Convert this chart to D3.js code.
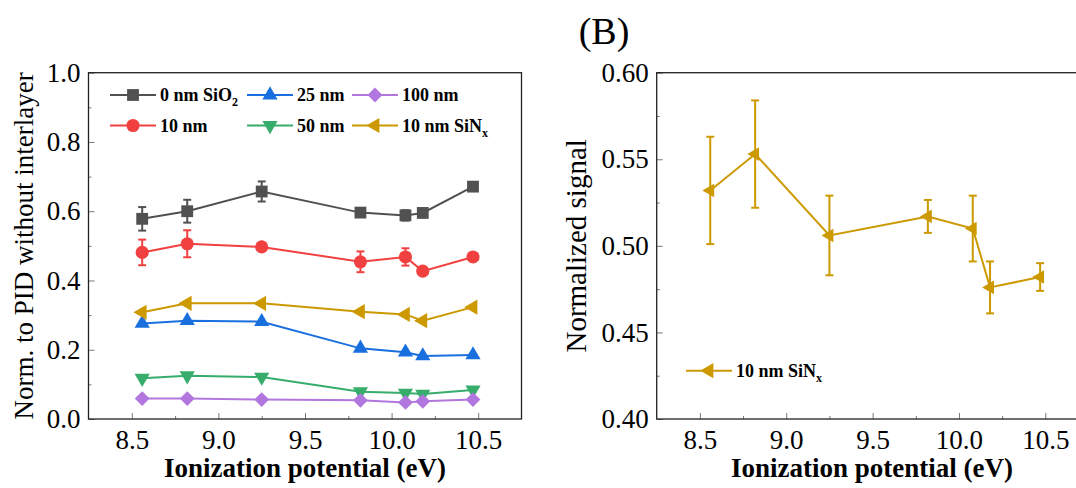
<!DOCTYPE html>
<html>
<head>
<meta charset="utf-8">
<script src="https://cdn.jsdelivr.net/npm/d3@7"></script>
<style>
  html, body { margin: 0; padding: 0; background: #fff; }
  svg { display: block; }
  svg text { font-family: "Liberation Serif", "Times New Roman", serif !important; fill: #000; }
  .tick text { font-size: 27px; }
  .axis-title { font-size: 27px; }
  .legend-text { font-size: 18px; font-weight: bold; }
</style>
</head>
<body>
<div id="chart"></div>
<script>
'use strict';

// ============================================================
//  Two panels: (left) signal normalised to PID without
//  interlayer for several interlayers, (B) normalised signal
//  for the 10 nm SiNx interlayer, both vs ionization potential
// ============================================================

// ── Data ────────────────────────────────────────────────────
const ionPotential = [8.56, 8.82, 9.25, 9.82, 10.08, 10.18, 10.47];

const sio2_0   = [0.578, 0.600, 0.657, 0.596, 0.588, 0.595, 0.671];
const sio2_0e  = [0.034, 0.033, 0.029, 0.008, 0.015, 0.008, 0.008];
const sio2_10  = [0.481, 0.506, 0.497, 0.454, 0.468, 0.427, 0.468];
const sio2_10e = [0.037, 0.039, 0.008, 0.030, 0.025, 0.008, 0.008];
const sio2_25  = [0.276, 0.284, 0.281, 0.204, 0.193, 0.182, 0.185];
const sio2_50  = [0.118, 0.125, 0.121, 0.079, 0.075, 0.072, 0.084];
const sio2_100 = [0.059, 0.059, 0.056, 0.054, 0.048, 0.051, 0.056];
const sinx_10  = [0.308, 0.334, 0.334, 0.310, 0.302, 0.284, 0.323];

// panel B
const sinxNorm    = [0.532, 0.553, 0.506, 0.517, 0.510, 0.476, 0.482];
const sinxNormErr = [0.031, 0.031, 0.023, 0.0095, 0.019, 0.015, 0.008];

const xTicks      = [8.5, 9.0, 9.5, 10.0, 10.5];
const xMinorTicks = [8.75, 9.25, 9.75, 10.25];
const yTicksA      = [0, 0.2, 0.4, 0.6, 0.8, 1.0];
const yMinorTicksA = [0.1, 0.3, 0.5, 0.7, 0.9];
const yTicksB      = [0.40, 0.45, 0.50, 0.55, 0.60];
const yMinorTicksB = [0.425, 0.475, 0.525, 0.575];

// Origin-style palette
const COLOURS = ['#515151', '#F14040', '#1A6FDF', '#37AD6B', '#B177DE', '#CC9900'];

// ── Marker shapes ───────────────────────────────────────────
const markerDefs = [
    { type: d3.symbolSquare,   size: 140, rot: 0 },
    { type: d3.symbolCircle,   size: 135, rot: 0 },
    { type: d3.symbolTriangle, size: 100, rot: 0 },
    { type: d3.symbolTriangle, size: 100, rot: 180 },
    { type: d3.symbolSquare,   size: 110, rot: 45 },
    { type: d3.symbolTriangle, size: 100, rot: -90 }
];

const W = 1076, H = 488;
const svg = d3.select('#chart').append('svg')
    .attr('width', W).attr('height', H);

// ── Helpers ─────────────────────────────────────────────────
function drawAxes(g, x, y, box, yTicks, yMinor, yFmt) {
    // major + minor ticks, all pointing inward
    const xa = g.append('g').attr('transform', `translate(0,${box.bottom})`)
        .call(d3.axisBottom(x).tickValues(xTicks).tickSize(-6).tickPadding(11)
            .tickFormat(d3.format('.1f')));
    const xm = g.append('g').attr('transform', `translate(0,${box.bottom})`)
        .call(d3.axisBottom(x).tickValues(xMinorTicks).tickSize(-3).tickFormat(''));
    const ya = g.append('g').attr('transform', `translate(${box.left},0)`)
        .call(d3.axisLeft(y).tickValues(yTicks).tickSize(-6).tickPadding(8).tickFormat(yFmt));
    const ym = g.append('g').attr('transform', `translate(${box.left},0)`)
        .call(d3.axisLeft(y).tickValues(yMinor).tickSize(-3).tickFormat(''));
    [xa, xm, ya, ym].forEach(a => {
        // drop d3's default sans-serif so the serif from the css applies
        a.attr('font-family', null).attr('font-size', null);
        a.select('.domain').remove();
        a.selectAll('.tick line').attr('stroke', '#777').attr('stroke-width', 1);
    });

    // frame
    g.append('rect')
        .attr('x', box.left).attr('y', box.top)
        .attr('width', box.right - box.left).attr('height', box.bottom - box.top)
        .attr('fill', 'none').attr('stroke', '#222').attr('stroke-width', 1.3);
}

function marker(sel, i, cx, cy, scale) {
    const m = markerDefs[i];
    sel.append('path')
        .attr('d', d3.symbol().type(m.type).size(m.size * (scale || 1))())
        .attr('transform', `translate(${cx},${cy}) rotate(${m.rot})`)
        .attr('fill', COLOURS[i]);
}

function drawSeries(g, x, y, vals, errs, i, scale) {
    const pts = ionPotential.map((v, k) => ({ x: v, y: vals[k], e: errs ? errs[k] : 0 }));
    const col = COLOURS[i];

    // error bars with caps
    pts.filter(d => d.e > 0).forEach(d => {
        const cx = x(d.x), y1 = y(d.y + d.e), y2 = y(d.y - d.e);
        g.append('line').attr('x1', cx).attr('x2', cx).attr('y1', y1).attr('y2', y2)
            .attr('stroke', col).attr('stroke-width', 2);
        [y1, y2].forEach(yy => g.append('line')
            .attr('x1', cx - 4).attr('x2', cx + 4).attr('y1', yy).attr('y2', yy)
            .attr('stroke', col).attr('stroke-width', 2));
    });

    g.append('path')
        .datum(pts)
        .attr('fill', 'none')
        .attr('stroke', col)
        .attr('stroke-width', 2)
        .attr('d', d3.line().x(d => x(d.x)).y(d => y(d.y)));

    pts.forEach(d => marker(g, i, x(d.x), y(d.y), scale));
}

function legendItem(g, i, x0, yy, label, sub) {
    g.append('line').attr('x1', x0).attr('x2', x0 + 46).attr('y1', yy).attr('y2', yy)
        .attr('stroke', COLOURS[i]).attr('stroke-width', 2);
    marker(g, i, x0 + 23, yy);
    const t = g.append('text').attr('class', 'legend-text')
        .attr('x', x0 + 50).attr('y', yy + 6).text(label);
    if (sub) t.append('tspan').attr('font-size', 12).attr('dy', 5).text(sub);
}

// ── Panel A ─────────────────────────────────────────────────
const boxA = { left: 88.5, right: 521.5, top: 72.7, bottom: 419 };
const xA = d3.scaleLinear().domain([8.25, 10.75]).range([boxA.left, boxA.right]);
const yA = d3.scaleLinear().domain([0, 1]).range([boxA.bottom, boxA.top]);
const gA = svg.append('g');

drawAxes(gA, xA, yA, boxA, yTicksA, yMinorTicksA, d3.format('.1f'));

const seriesA = [
    [sio2_0, sio2_0e], [sio2_10, sio2_10e], [sio2_25, null],
    [sio2_50, null], [sio2_100, null], [sinx_10, null]
];
seriesA.forEach((s, i) => drawSeries(gA, xA, yA, s[0], s[1], i));

// legend: 3 columns x 2 rows (column-major)
const legA = gA.append('g');
const legCols = [110, 247, 352];
const legRows = [95, 125.5];
const legLabels = [['0 nm SiO', '2'], ['10 nm', ''], ['25 nm', ''],
                   ['50 nm', ''], ['100 nm', ''], ['10 nm SiN', 'x']];
legLabels.forEach((l, i) => {
    legendItem(legA, i, legCols[Math.floor(i / 2)], legRows[i % 2], l[0], l[1]);
});

gA.append('text').attr('class', 'axis-title')
    .attr('transform', `translate(33,${(boxA.top + boxA.bottom) / 2}) rotate(-90)`)
    .attr('text-anchor', 'middle')
    .text('Norm. to PID without interlayer');

gA.append('text').attr('class', 'axis-title')
    .attr('x', (boxA.left + boxA.right) / 2).attr('y', 477)
    .attr('text-anchor', 'middle').attr('font-weight', 'bold')
    .text('Ionization potential (eV)');

// ── Panel B ─────────────────────────────────────────────────
const boxB = { left: 656.7, right: 1088.5, top: 72.7, bottom: 419 };
const xB = d3.scaleLinear().domain([8.25, 10.75]).range([boxB.left, boxB.right]);
const yB = d3.scaleLinear().domain([0.4, 0.6]).range([boxB.bottom, boxB.top]);
const gB = svg.append('g');

drawAxes(gB, xB, yB, boxB, yTicksB, yMinorTicksB, d3.format('.2f'));
drawSeries(gB, xB, yB, sinxNorm, sinxNormErr, 5, 0.8);

legendItem(gB.append('g'), 5, 686, 370.7, '10 nm SiN', 'x');

gB.append('text').attr('class', 'axis-title')
    .attr('transform', `translate(586,${(boxB.top + boxB.bottom) / 2}) rotate(-90)`)
    .attr('text-anchor', 'middle')
    .style('font-size', '29px')
    .text('Normalized signal');

gB.append('text').attr('class', 'axis-title')
    .attr('x', 872).attr('y', 477)
    .attr('text-anchor', 'middle').attr('font-weight', 'bold')
    .text('Ionization potential (eV)');

svg.append('text')
    .attr('x', 604).attr('y', 44)
    .attr('text-anchor', 'middle')
    .attr('font-size', 38)
    .text('(B)');
</script>
</body>
</html>
